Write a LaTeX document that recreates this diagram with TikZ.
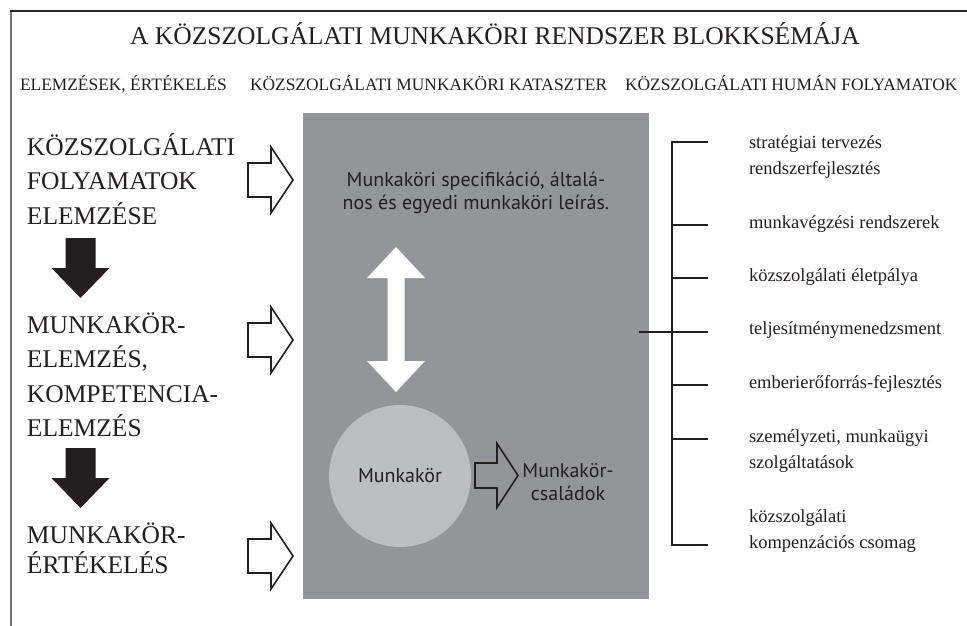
\documentclass[tikz,border=0pt]{standalone}
\usepackage{fontspec}
\setmainfont{Liberation Serif}
\newfontfamily\sansf{PT Sans}
\definecolor{katgray}{HTML}{939598}
\definecolor{circgray}{HTML}{BCBEC0}
\definecolor{inkdark}{HTML}{231F20}
\begin{document}
\begin{tikzpicture}[x=1pt,y=-1pt,
  every node/.style={inner sep=0pt, outer sep=0pt, text=inkdark},
  titletext/.style={font=\fontsize{25.5}{30}\selectfont},
  headtext/.style={font=\fontsize{17.4}{20}\selectfont, anchor=base west},
  leftblock/.style={font=\fontsize{25.5}{34.5}\selectfont, align=left, anchor=base west},
  itemtext/.style={font=\fontsize{18.5}{26}\selectfont, align=left, anchor=base west},
  sanstext/.style={font=\sansf\fontsize{20}{22.5}\selectfont, align=center},
  openarr/.pic={\draw[line width=1.6pt, draw=inkdark, fill=white]
     (0,-17) -- (23,-17) -- (23,-33) -- (45,0) -- (23,33) -- (23,17) -- (0,17) -- cycle;},
  smallarr/.pic={\draw[line width=1.6pt, draw=inkdark]
     (0,-12.5) -- (22,-12.5) -- (22,-32) -- (43,0) -- (22,32) -- (22,12.5) -- (0,12.5) -- cycle;},
  downarr/.pic={\fill[inkdark]
     (-15,0) -- (15,0) -- (15,30) -- (29,30) -- (0,60) -- (-29,30) -- (-15,30) -- cycle;},
  bracket/.style={line width=1.6pt, draw=inkdark}
]
\useasboundingbox (0,0) rectangle (967,626);
% frame
\draw[line width=2pt, draw=black!55] (11,11) -- (11,626);
\draw[line width=2pt, draw=black!85] (10,11) -- (967,11);
% title and headings
\node[titletext, anchor=base] (title) at (495,45) {A KÖZSZOLGÁLATI MUNKAKÖRI RENDSZER BLOKKSÉMÁJA};
\node[headtext] (h1) at (20,91) {ELEMZÉSEK, ÉRTÉKELÉS};
\node[headtext] (h2) at (250,91) {KÖZSZOLGÁLATI MUNKAKÖRI KATASZTER};
\node[headtext] (h3) at (625,91) {KÖZSZOLGÁLATI HUMÁN FOLYAMATOK};
% central grey block
\node[fill=katgray, minimum width=346pt, minimum height=486pt, anchor=north west] (kat) at (303,113) {};
\node[sanstext, anchor=base] (spec) at (476,209) {Munkaköri specifikáció, általá-\\nos és egyedi munkaköri leírás.};
\fill[white] (396,247) -- (425,278) -- (404.5,278) -- (404.5,361) -- (425,361) -- (396,392)
   -- (367,361) -- (387.5,361) -- (387.5,278) -- (367,278) -- cycle;
\node[circle, fill=circgray, minimum size=142pt, font=\sansf\fontsize{20}{22}\selectfont] (mk) at (400,476) {Munkakör};
\pic at (475,475.5) {smallarr};
\node[sanstext, anchor=base] (csal) at (568,500) {Munkakör-\\családok};
% left column
\node[leftblock] (b1) at (27,224) {KÖZSZOLGÁLATI\\FOLYAMATOK\\ELEMZÉSE};
\node[leftblock] (b2) at (27,436.5) {MUNKAKÖR-\\ELEMZÉS,\\KOMPETENCIA-\\ELEMZÉS};
\node[leftblock, font=\fontsize{25.5}{29.5}\selectfont] (b3) at (27,573) {MUNKAKÖR-\\ÉRTÉKELÉS};
\pic at (80.5,238) {downarr};
\pic at (80.5,448) {downarr};
\pic at (248,180) {openarr};
\pic at (248,340) {openarr};
\pic at (248,556) {openarr};
% right bracket
\coordinate (stub) at (639,332);
\coordinate (join) at (672,332);
\coordinate (btop) at (672,142);
\coordinate (bbot) at (672,545);
\draw[bracket] (stub) -- (join);
\draw[bracket] (708,142) -- (btop) -- (bbot) -- (708,545);
\foreach \yy in {225,278,332,385,439} \draw[bracket] (672,\yy) -- (708,\yy);
\node[itemtext] (i1) at (749,174) {stratégiai tervezés\\rendszerfejlesztés};
\node[itemtext] (i2) at (749,228) {munkavégzési rendszerek};
\node[itemtext] (i3) at (749,281) {közszolgálati életpálya};
\node[itemtext] (i4) at (749,334) {teljesítménymenedzsment};
\node[itemtext] (i5) at (749,388) {emberierőforrás-fejlesztés};
\node[itemtext] (i6) at (749,468) {személyzeti, munkaügyi\\szolgáltatások};
\node[itemtext] (i7) at (749,548) {közszolgálati\\kompenzációs csomag};
\end{tikzpicture}
\end{document}
